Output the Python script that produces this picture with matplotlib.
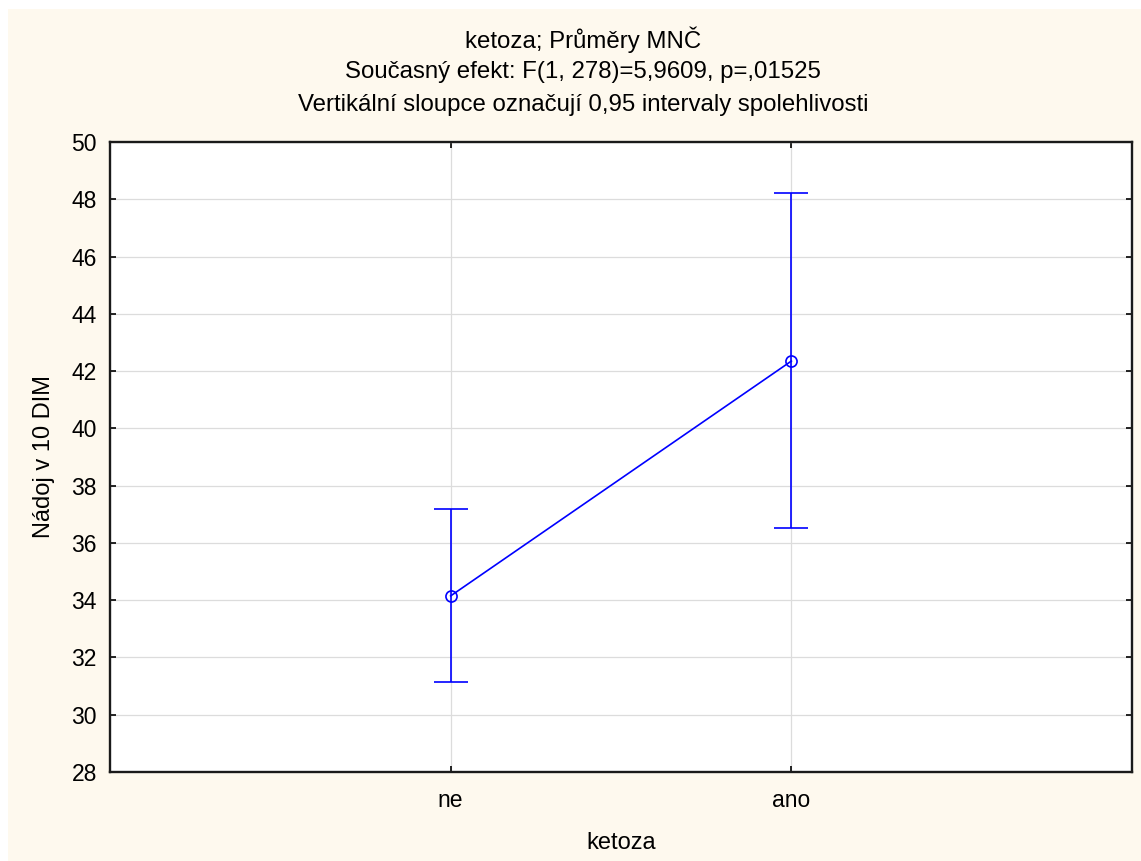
import matplotlib.pyplot as plt
import matplotlib.patches as mpatches
import numpy as np

# category labels and LS means with 0.95 confidence limits
groups = ['ne', 'ano']
means = np.array([34.15, 42.35])
lower = np.array([31.15, 36.52])
upper = np.array([37.20, 48.22])

title_lines = ['ketoza; Průměry MNČ',
               'Současný efekt: F(1, 278)=5,9609, p=,01525',
               'Vertikální sloupce označují 0,95 intervaly spolehlivosti']

plt.rcParams['font.family'] = ['Liberation Sans', 'DejaVu Sans']

fig = plt.figure(figsize=(11.41, 8.61), dpi=100)
fig.patch.set_facecolor('white')
# cream background panel, offset a little from the top-left corner
fig.patches.append(mpatches.Rectangle((8 / 1141, 0), 1 - 8 / 1141, 1 - 9 / 861,
                                      transform=fig.transFigure, facecolor='#fef9ee',
                                      edgecolor='none', zorder=-10))

ax = fig.add_axes([110 / 1141, 89 / 861, 1022 / 1141, 630 / 861])
ax.set_facecolor('white')

x = np.arange(len(groups))
ax.errorbar(x, means, yerr=[means - lower, upper - means], color='#0000ff',
            linewidth=1.2, marker='o', markersize=8, markerfacecolor='none',
            markeredgewidth=1.2, capsize=12, capthick=1.2, zorder=3)

ax.set_xlim(-1, 2)
ax.set_ylim(28, 50)
ax.set_yticks(np.arange(28, 51, 2))
ax.set_xticks(x)
ax.set_xticklabels(groups)

ax.grid(True, color='#dcdcdc', linewidth=0.9)
ax.set_axisbelow(True)
for s in ax.spines.values():
    s.set_linewidth(1.7)
    s.set_color('#1a1a1a')
ax.tick_params(direction='in', length=4, width=1.2, labelsize=16.5,
               top=True, right=True, pad=9.4)
ax.tick_params(axis='x', pad=12.4)

ax.set_xlabel('ketoza', fontsize=17, labelpad=14.5)
ax.set_ylabel('Nádoj v 10 DIM', fontsize=17, labelpad=12)

title_y = [40, 72, 105]
for line, ty in zip(title_lines, title_y):
    fig.text(583 / 1141, 1 - ty / 861, line, ha='center', va='center', fontsize=17.3)

fig.savefig('out.png', dpi=100)
